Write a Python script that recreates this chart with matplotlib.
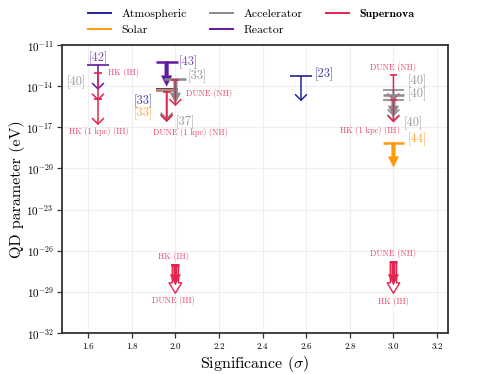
import matplotlib
matplotlib.use("Agg")
import matplotlib.pyplot as plt
import numpy as np
from matplotlib.lines import Line2D
from matplotlib.patches import FancyArrowPatch
from matplotlib.ticker import FixedLocator, NullLocator, LogFormatterMathtext

plt.rcParams['font.family'] = 'serif'
plt.rcParams['font.serif'] = ['cmr10', 'DejaVu Serif']
plt.rcParams['mathtext.fontset'] = 'cm'
plt.rcParams['axes.formatter.use_mathtext'] = True
plt.rcParams['axes.unicode_minus'] = True

# ---------------- data ----------------
categories = ['Atmospheric', 'Solar', 'Accelerator', 'Reactor', 'Supernova']

# one entry per limit arrow
labels = ['[42]', '[40]', 'HK (IH)', 'HK (1 kpc) (IH)',
          '[43]', '[33]', '[33]', '[37]', 'DUNE (1 kpc) (NH)',
          '[33]', 'DUNE (NH)', '[23]',
          'DUNE (NH)', '[40]', '[40]', '[40]', 'HK (1 kpc) (IH)', '[44]',
          'HK (IH)', 'DUNE (IH)', 'DUNE (NH)', 'HK (IH)']
source = ['Reactor', 'Accelerator', 'Supernova', 'Supernova',
          'Reactor', 'Atmospheric', 'Solar', 'Accelerator', 'Supernova',
          'Accelerator', 'Supernova', 'Atmospheric',
          'Supernova', 'Accelerator', 'Accelerator', 'Accelerator', 'Supernova', 'Solar',
          'Supernova', 'Supernova', 'Supernova', 'Supernova']
significance = [1.645, 1.645, 1.645, 1.645,
                1.96, 1.96, 1.96, 1.96, 1.96,
                2.0, 2.0, 2.576,
                3.0, 3.0, 3.0, 3.0, 3.0, 3.0,
                2.0, 2.0, 3.0, 3.0]
log_limit = [-12.46, -13.7, -13.02, -14.9,
             -12.22, -14.23, -14.31, -14.36, -14.40,
             -13.5, -13.55, -13.24,
             -13.19, -14.28, -14.65, -15.0, -15.0, -18.13,
             -27.05, -27.05, -26.8, -26.8]
log_arrow_end = [-14.28, -14.2, -15.06, -16.84,
                 -14.0, -16.6, -16.5, -16.45, -16.6,
                 -15.25, -15.45, -15.1,
                 -15.05, -16.2, -16.2, -16.6, -16.65, -19.9,
                 -28.5, -29.1, -28.5, -29.1]

# styles: 'thin' open chevron, 'thick' filled head, 'hollow' outlined arrow
style = ['thin', 'hidden', 'thin', 'thin',
         'thick', 'thin', 'thin', 'thin', 'thin',
         'thick', 'thin', 'thin',
         'thin', 'thin', 'thick', 'thin', 'thin', 'thick',
         'thick', 'hollow', 'thick', 'hollow']
label_side = ['center', 'right', 'left', 'center',
              'left', 'right', 'right', 'left', 'center',
              'left', 'left', 'left',
              'center', 'left', 'left', 'left', 'center', 'left',
              'center', 'center', 'center', 'center']
label_x = [1.645, 1.588, 1.69, 1.65,
           2.015, 1.897, 1.897, 2.0, 2.07,
           2.056, 2.048, 2.636,
           3.0, 3.066, 3.066, 3.047, 2.89, 3.066,
           1.99, 1.99, 3.0, 3.0]
label_logy = [-11.95, -13.7, -13.02, -17.28,
              -12.24, -15.1, -16.0, -16.6, -17.37,
              -13.31, -14.52, -13.1,
              -12.63, -13.62, -14.62, -16.7, -17.25, -17.88,
              -26.44, -29.6, -26.2, -29.72]

colors = {'Atmospheric': '#23239a', 'Solar': '#ff9a0a', 'Accelerator': '#8a8a8a',
          'Reactor': '#5e1a9e', 'Supernova': '#e3244f'}
text_colors = {'Atmospheric': '#4747a8', 'Solar': '#ffaa44', 'Accelerator': '#9c9c9c',
               'Reactor': '#7a4ab0', 'Supernova': '#e8486a'}

xticks = [1.6, 1.8, 2.0, 2.2, 2.4, 2.6, 2.8, 3.0, 3.2]
yticks_exp = [-11, -14, -17, -20, -23, -26, -29, -32]

# ---------------- figure ----------------
fig = plt.figure(figsize=(4.98, 3.74), dpi=100)
ax = fig.add_axes([0.1245, 0.1096, 0.775, 0.770])
ax.set_yscale('log')
ax.set_xlim(1.48, 3.25)
ax.set_ylim(10.0 ** -32, 10.0 ** -11)
ax.yaxis.set_major_locator(FixedLocator([10.0 ** e for e in yticks_exp]))
ax.yaxis.set_major_formatter(LogFormatterMathtext())
ax.yaxis.set_minor_locator(NullLocator())
ax.set_xticks(xticks)
ax.set_xticklabels([f'{t:.1f}' for t in xticks])
ax.tick_params(axis='x', labelsize=6.5, length=3.5, width=0.9, color='#333333')
ax.tick_params(axis='y', labelsize=8, length=3.5, width=0.9, color='#333333', pad=2.5)
ax.grid(True, color='#efefef', lw=0.8, zorder=0)
ax.set_axisbelow(True)
for sp in ax.spines.values():
    sp.set_color('#333333')
    sp.set_linewidth(1.3)

ax.set_xlabel(r'Significance ($\sigma$)', fontsize=11.5, labelpad=2)
ax.set_ylabel('QD parameter (eV)', fontsize=11.5, labelpad=1)


def cap_half(src):
    return 0.018 if src == 'Supernova' else 0.05


for i in range(len(labels)):
    src = source[i]
    c = colors[src]
    x = significance[i]
    y0 = 10.0 ** log_limit[i]
    y1 = 10.0 ** log_arrow_end[i]
    st = style[i]
    z = 3 if src != 'Supernova' else 4
    h = cap_half(src)
    if st == 'thin':
        ax.annotate('', xy=(x, y1), xytext=(x, y0),
                    arrowprops=dict(arrowstyle='->,head_length=0.4,head_width=0.4',
                                    color=c, lw=1.1, shrinkA=0, shrinkB=0,
                                    mutation_scale=10), zorder=z)
        ax.plot([x - h, x + h], [y0, y0], color=c, lw=1.2, zorder=z,
                solid_capstyle='butt')
    elif st == 'thick':
        p = FancyArrowPatch((x, y0), (x, y1),
                            arrowstyle='simple,head_length=0.75,head_width=0.75,tail_width=0.26',
                            mutation_scale=10, fc=c, ec=c, lw=0.3,
                            shrinkA=0, shrinkB=0, zorder=z + 1)
        ax.add_patch(p)
        ax.plot([x - h, x + h], [y0, y0], color=c, lw=1.8, zorder=z + 1,
                solid_capstyle='butt')
    elif st == 'hollow':
        p = FancyArrowPatch((x, y0), (x, y1),
                            arrowstyle='simple,head_length=0.75,head_width=0.9,tail_width=0.45',
                            mutation_scale=10, fc='white', ec=c, lw=1.0,
                            shrinkA=0, shrinkB=0, zorder=z - 1)
        ax.add_patch(p)
        ax.plot([x - h, x + h], [y0, y0], color=c, lw=1.4, zorder=z,
                solid_capstyle='butt')

    tc = text_colors[src]
    fs = 6.0 if src == 'Supernova' else 9.0
    ax.text(label_x[i], 10.0 ** label_logy[i], labels[i], color=tc, fontsize=fs,
            ha=label_side[i], va='center', zorder=6)

# legend
handles = [Line2D([], [], color=colors[c], lw=1.4) for c in categories]
leg = fig.legend(handles, categories, loc='upper left', bbox_to_anchor=(0.156, 1.006),
                 ncol=3, frameon=False, fontsize=8.5, handlelength=1.9,
                 handletextpad=0.9, columnspacing=2.0, labelspacing=0.5)
for t in leg.get_texts():
    if t.get_text() == 'Supernova':
        t.set_fontfamily('cmb10')

fig.savefig('out.png', dpi=100)
